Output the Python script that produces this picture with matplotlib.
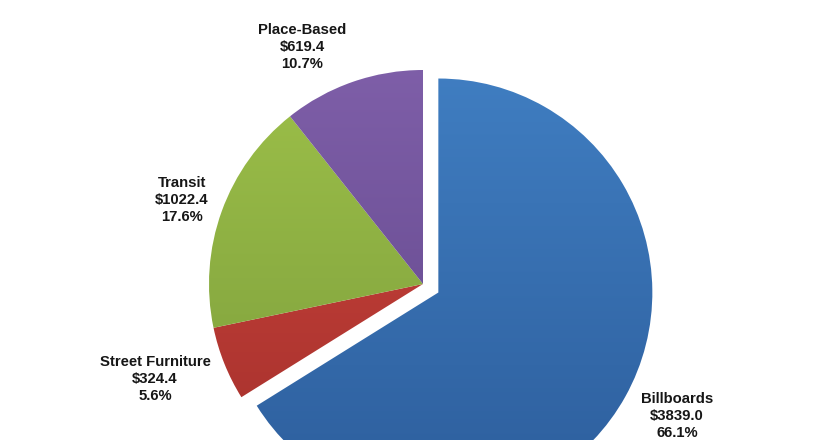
import numpy as np
import matplotlib
matplotlib.use("Agg")
import matplotlib.pyplot as plt
from matplotlib.colors import LinearSegmentedColormap

categories = ["Billboards", "Street Furniture", "Transit", "Place-Based"]
values = [3839.0, 324.4, 1022.4, 619.4]
percents = ["66.1%", "5.6%", "17.6%", "10.7%"]
top_colors = ["#4180C4", "#D2473F", "#9FC24A", "#8060AA"]
bottom_colors = ["#2C5C9A", "#A02E2A", "#78993A", "#5E4487"]

W, H = 840, 440
fig = plt.figure(figsize=(W / 100, H / 100), dpi=100)
ax = fig.add_axes([0, 0, 1, 1])

cx, cy, R = 423, H - 284, 214
explode_frac = [0.082, 0, 0, 0]
wedges, _ = ax.pie(values, startangle=90, counterclock=False,
                   center=(cx, cy), radius=R, frame=True,
                   wedgeprops=dict(linewidth=0, edgecolor="none"))

# explode wedges (offset as fraction of radius along mid-angle)
for w, e in zip(wedges, explode_frac):
    if e:
        tm = np.deg2rad((w.theta1 + w.theta2) / 2)
        w.set_center((cx + e * R * np.cos(tm), cy + e * R * np.sin(tm)))

ax.set_xlim(0, W)
ax.set_ylim(0, H)
ax.set_aspect("equal")
ax.axis("off")

# vertical gradient fill clipped to each wedge
for w, c1, c2 in zip(wedges, top_colors, bottom_colors):
    w.set_facecolor("none")
    cmap = LinearSegmentedColormap.from_list("g", [c2, c1])
    grad = np.linspace(0, 1, 256).reshape(-1, 1)
    im = ax.imshow(grad, cmap=cmap, origin="lower", aspect="auto",
                   extent=[cx - R - 30, cx + R + 30, cy - R - 30, cy + R + 30],
                   zorder=1, interpolation="bilinear")
    im.set_clip_path(w)
ax.set_xlim(0, W)
ax.set_ylim(0, H)

label_pos = {
    "Billboards": (677, 416),
    "Street Furniture": (155, 379),
    "Transit": (182, 200),
    "Place-Based": (302, 47),
}
for name, val, pct in zip(categories, values, percents):
    x, y = label_pos[name]
    ax.text(x, H - y, f"{name}\n${val:.1f}\n{pct}", ha="center", va="center",
            fontsize=10.7, fontweight="bold", family="Liberation Sans",
            color="#161616", linespacing=1.28, zorder=5)

fig.savefig("out.png", dpi=100)
